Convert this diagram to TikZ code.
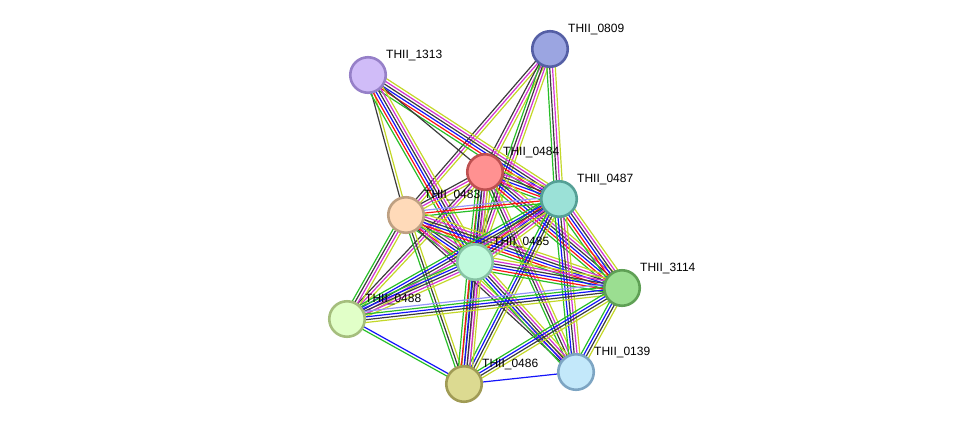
\documentclass[tikz,border=0pt]{standalone}
\usepackage{fontspec}
\setmainfont{Liberation Sans}
\usepackage{tikz}
\usetikzlibrary{calc,backgrounds}

% evidence colours
\definecolor{sgreen}{RGB}{40,190,40}
\definecolor{sred}{RGB}{250,20,20}
\definecolor{sblue}{RGB}{20,20,250}
\definecolor{sblack}{RGB}{60,60,60}
\definecolor{smagenta}{RGB}{210,50,210}
\definecolor{syellow}{RGB}{195,215,40}
\definecolor{shomol}{RGB}{150,150,250}

% protein colours (fill / border)
\definecolor{f0809}{RGB}{155,165,225} \definecolor{b0809}{RGB}{85,95,165}
\definecolor{f1313}{RGB}{208,188,248} \definecolor{b1313}{RGB}{150,128,200}
\definecolor{f0484}{RGB}{255,145,145} \definecolor{b0484}{RGB}{190,80,80}
\definecolor{f0487}{RGB}{155,225,215} \definecolor{b0487}{RGB}{85,160,150}
\definecolor{f0483}{RGB}{255,218,185} \definecolor{b0483}{RGB}{190,160,130}
\definecolor{f0485}{RGB}{192,250,220} \definecolor{b0485}{RGB}{135,195,165}
\definecolor{f3114}{RGB}{155,222,145} \definecolor{b3114}{RGB}{95,160,85}
\definecolor{f0488}{RGB}{225,255,200} \definecolor{b0488}{RGB}{165,190,125}
\definecolor{f0486}{RGB}{220,218,145} \definecolor{b0486}{RGB}{160,155,85}
\definecolor{f0139}{RGB}{195,232,250} \definecolor{b0139}{RGB}{125,165,195}

\tikzset{
    prot/.style n args={2}{circle, fill=#1, draw=#2, line width=2.6pt, minimum size=35.5pt, inner sep=0pt},
    lab/.style={font=\fontsize{12}{14}\selectfont, anchor=west, inner sep=0pt},
    edge/.style={line width=1.2pt}
}

% bundle of parallel lines between two nodes
\newcommand{\link}[3]{%
    \foreach \c [count=\n] in {#3} {\global\let\nlinks\n}
    \foreach \c [count=\k] in {#3} {
        \pgfmathsetmacro{\off}{(\k-(\nlinks+1)/2)*2.8}
        \draw[edge, color=\c] ($(#1)!\off pt!90:(#2)$) -- ($(#2)!\off pt!-90:(#1)$);
    }
}

\begin{document}
\begin{tikzpicture}[x=1pt, y=-1pt]
\useasboundingbox (0,0) rectangle (976,429);

% Proteins
\foreach \id/\px/\py in {0809/550/49, 1313/368/75, 0484/485/172, 0487/559/199,
    0483/406/215, 0485/475/262, 3114/622/288, 0488/347/319, 0486/464/384, 0139/576/372} {
    \node[prot={f\id}{b\id}] (n\id) at (\px,\py) {};
    \node[lab] (l\id) at ($(n\id)+(18,-20)$) {THII\_\id};
}

% Interactions
\begin{scope}[on background layer]
\link{n0809}{n0483}{sblack,smagenta,syellow}
\link{n0809}{n0484}{sblack,smagenta,syellow}
\link{n0809}{n0485}{sgreen,sblack,smagenta,syellow}
\link{n0809}{n0487}{sgreen,sblack,smagenta,syellow}
\link{n1313}{n0487}{sgreen,sred,sblue,sblack,smagenta,syellow}
\link{n1313}{n0484}{sblack}
\link{n1313}{n0483}{sblack,syellow}
\link{n1313}{n0485}{sgreen,sred,sblue,sblack,smagenta,syellow}
\link{n0484}{n0487}{sgreen,sred,sblue,sblack,smagenta,syellow}
\link{n0484}{n0483}{sblack,smagenta,syellow}
\link{n0484}{n0485}{sgreen,sred,sblue,sblack,smagenta,syellow}
\link{n0484}{n3114}{sgreen,sred,sblue,sblack,smagenta,syellow}
\link{n0484}{n0486}{sgreen,sblack,smagenta,syellow}
\link{n0484}{n0139}{sgreen,sblack,smagenta,syellow}
\link{n0484}{n0488}{sblack,smagenta,syellow}
\link{n0483}{n0487}{sgreen,sred,shomol}
\link{n0483}{n0485}{sgreen,sred,sblue,sblack,smagenta,syellow}
\link{n0483}{n3114}{sgreen,sred,sblue,sblack,smagenta,syellow}
\link{n0483}{n0488}{sgreen,sblack,smagenta,syellow}
\link{n0483}{n0486}{sgreen,sblack,syellow}
\link{n0483}{n0139}{sblack,smagenta,syellow}
\link{n0487}{n0485}{sgreen,sred,sblue,sblack,smagenta,syellow}
\link{n0487}{n3114}{sgreen,sred,sblue,sblack,smagenta,syellow}
\link{n0487}{n0488}{sgreen,sblue,sblack,smagenta,syellow}
\link{n0487}{n0486}{sgreen,sblue,sblack,syellow}
\link{n0487}{n0139}{sgreen,sblue,sblack,smagenta,syellow}
\link{n0485}{n3114}{sgreen,sred,sblue,sblack,smagenta,syellow}
\link{n0485}{n0488}{sgreen,sblue,sblack,smagenta,syellow}
\link{n0485}{n0486}{sgreen,sred,sblue,sblack,smagenta,syellow}
\link{n0485}{n0139}{sgreen,sblue,sblack,smagenta,syellow}
\link{n3114}{n0488}{shomol,sgreen,sblue,sblack,syellow}
\link{n3114}{n0486}{sgreen,sblue,sblack,syellow}
\link{n3114}{n0139}{sgreen,sblue,sblack,syellow}
\link{n0488}{n0486}{sgreen,sblue}
\link{n0486}{n0139}{sblue}
\end{scope}

\end{tikzpicture}
\end{document}
